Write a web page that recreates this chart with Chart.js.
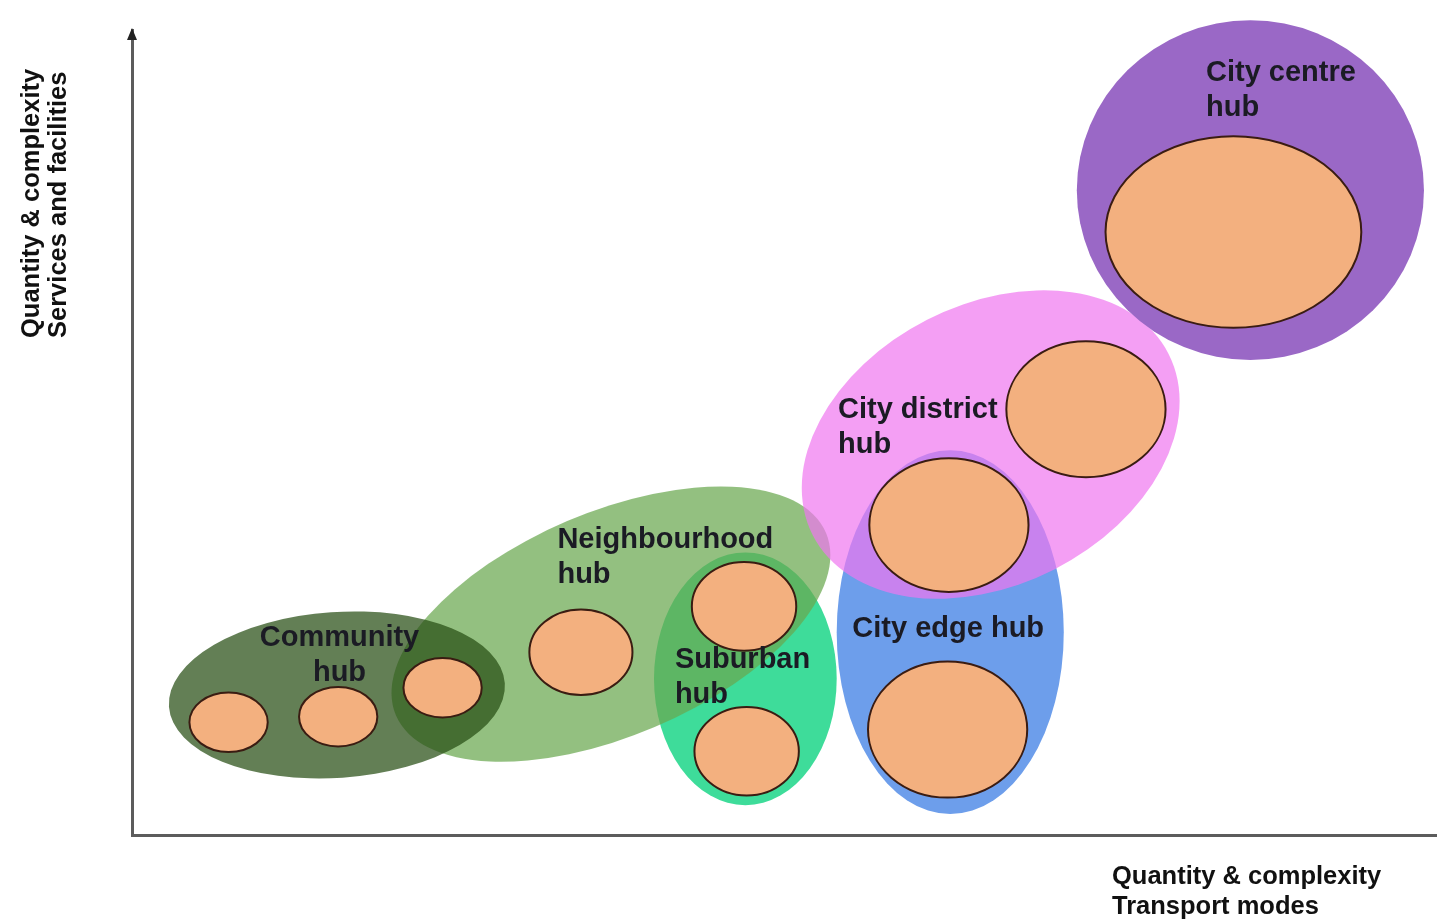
<!DOCTYPE html>
<html>
<head>
<meta charset="utf-8">
<title>Hub hierarchy</title>
<script src="https://cdn.jsdelivr.net/npm/chart.js@4.4.1/dist/chart.umd.min.js"></script>
<style>
  html, body { margin: 0; padding: 0; background: #fff; }
  #wrap { width: 1437px; height: 920px; }
</style>
</head>
<body>
<div id="wrap"><canvas id="hubchart"></canvas></div>
<script>
// hub areas, in drawing order (x = transport modes, y = services and facilities, 0..100)
var hubNames = ["Suburban hub", "Neighbourhood hub", "Community hub", "City edge hub", "City district hub", "City centre hub"];
var hubX    = [47.0, 36.7, 15.7, 62.7, 65.8, 85.7];
var hubY    = [19.4, 26.2, 17.4, 25.2, 48.5, 80.1];
var hubHalfW = [7.0, 17.9, 12.9, 8.7, 15.3, 13.3];
var hubHalfH = [15.7, 13.9, 10.3, 22.6, 17.4, 21.1];
var hubTilt = [0, 23, 4, 0, 27, 0];

// facility clusters (orange ellipses)
var facX    = [7.4, 15.8, 23.8, 34.4, 46.9, 47.1, 62.5, 62.6, 73.1, 84.4];
var facY    = [14.0, 14.7, 18.3, 22.7, 28.4, 10.4, 13.1, 38.5, 52.9, 74.9];
var facHalfW = [3.0, 3.0, 3.0, 3.95, 4.0, 4.0, 6.1, 6.1, 6.1, 9.8];
var facHalfH = [3.7, 3.7, 3.7, 5.3, 5.5, 5.5, 8.45, 8.3, 8.45, 11.9];

// hub labels
var labelLines = [["Suburban", "hub"], ["Neighbourhood", "hub"], ["Community", "hub"], ["City edge hub"], ["City district", "hub"], ["City centre", "hub"]];
var labelX = [41.6, 32.6, 15.9, 55.2, 54.1, 82.3];
var labelY = [21.7, 36.6, 24.5, 25.6, 52.8, 94.7];
var labelAlign = ["left", "left", "center", "left", "left", "left"];

var xTitle = ["Quantity & complexity", "Transport modes"];
var yTitle = ["Quantity & complexity", "Services and facilities"];

var hubColors = [
  "rgb(62,220,154)",
  "rgba(106,168,79,0.72)",
  "rgba(39,78,19,0.72)",
  "rgb(109,158,235)",
  "rgba(240,118,240,0.7)",
  "rgb(154,104,198)"
];
var facColor = "#f3b07f";
var facStroke = "#3a1c12";
var textColor = "#1b1b24";
var axisColor = "#5c5c5c";
var fontFamily = '"Liberation Sans", Arial, Helvetica, sans-serif';

function traceEllipse(ctx, chart, pt, halfW, halfH, tilt) {
  var xs = chart.scales.x, ys = chart.scales.y;
  var w = Math.abs(xs.getPixelForValue(halfW) - xs.getPixelForValue(0));
  var h = Math.abs(ys.getPixelForValue(halfH) - ys.getPixelForValue(0));
  ctx.beginPath();
  ctx.ellipse(pt.x, pt.y, w, h, -tilt * Math.PI / 180, 0, Math.PI * 2);
}

var ellipsePlugin = {
  id: "ellipses",
  beforeDatasetsDraw: function(chart) {
    var ctx = chart.ctx;
    var hubPts = chart.getDatasetMeta(0).data;
    var facPts = chart.getDatasetMeta(1).data;
    ctx.save();
    for (var i = 0; i < hubPts.length; i++) {
      traceEllipse(ctx, chart, hubPts[i], hubHalfW[i], hubHalfH[i], hubTilt[i]);
      ctx.fillStyle = hubColors[i];
      ctx.fill();
    }
    for (var j = 0; j < facPts.length; j++) {
      traceEllipse(ctx, chart, facPts[j], facHalfW[j], facHalfH[j], 0);
      ctx.fillStyle = facColor;
      ctx.fill();
      ctx.lineWidth = 2;
      ctx.strokeStyle = facStroke;
      ctx.stroke();
    }
    ctx.restore();
  },
  afterDraw: function(chart) {
    var ctx = chart.ctx;
    var xs = chart.scales.x, ys = chart.scales.y;
    var area = chart.chartArea;
    ctx.save();
    // hub names
    ctx.fillStyle = textColor;
    ctx.font = "bold 29px " + fontFamily;
    ctx.textBaseline = "middle";
    for (var i = 0; i < labelLines.length; i++) {
      ctx.textAlign = labelAlign[i];
      var px = xs.getPixelForValue(labelX[i]);
      var py = ys.getPixelForValue(labelY[i]);
      for (var k = 0; k < labelLines[i].length; k++) {
        ctx.fillText(labelLines[i][k], px, py + k * 35);
      }
    }
    // arrow head on the vertical axis
    ctx.fillStyle = "#222";
    ctx.beginPath();
    ctx.moveTo(area.left, area.top - 2);
    ctx.lineTo(area.left - 5, area.top + 10);
    ctx.lineTo(area.left + 5, area.top + 10);
    ctx.closePath();
    ctx.fill();
    // axis titles
    ctx.fillStyle = "#111";
    ctx.font = "bold 25.5px " + fontFamily;
    ctx.textAlign = "left";
    ctx.fillText(xTitle[0], area.left + 980, area.bottom + 42);
    ctx.fillText(xTitle[1], area.left + 980, area.bottom + 72);
    ctx.translate(area.left - 100, area.top + 308);
    ctx.rotate(-Math.PI / 2);
    ctx.fillText(yTitle[0], 0, 0);
    ctx.fillText(yTitle[1], 0, 27);
    ctx.restore();
  }
};

function toPoints(xv, yv) {
  var pts = [];
  for (var i = 0; i < xv.length; i++) pts.push({x: xv[i], y: yv[i]});
  return pts;
}

var ctx = document.getElementById("hubchart");
var options = {};
options.type = "scatter";
options.data = {
  datasets: [
    { label: "Hubs", data: toPoints(hubX, hubY), pointRadius: 0, pointHoverRadius: 0 },
    { label: "Facilities", data: toPoints(facX, facY), pointRadius: 0, pointHoverRadius: 0 }
  ]
};
options.options = {
  responsive: true,
  maintainAspectRatio: false,
  animation: false,
  events: [],
  layout: { padding: { left: 132, top: 30, right: 0, bottom: 85 } },
  plugins: { legend: { display: false }, tooltip: { enabled: false } },
  scales: {
    x: {
      min: 0, max: 100,
      grid: { display: false, drawTicks: false },
      ticks: { display: false },
      border: { display: true, color: axisColor, width: 3 }
    },
    y: {
      min: 0, max: 100,
      grid: { display: false, drawTicks: false },
      ticks: { display: false },
      border: { display: true, color: axisColor, width: 3 }
    }
  }
};
options.plugins = [ellipsePlugin];
new Chart(ctx, options);
</script>
</body>
</html>
